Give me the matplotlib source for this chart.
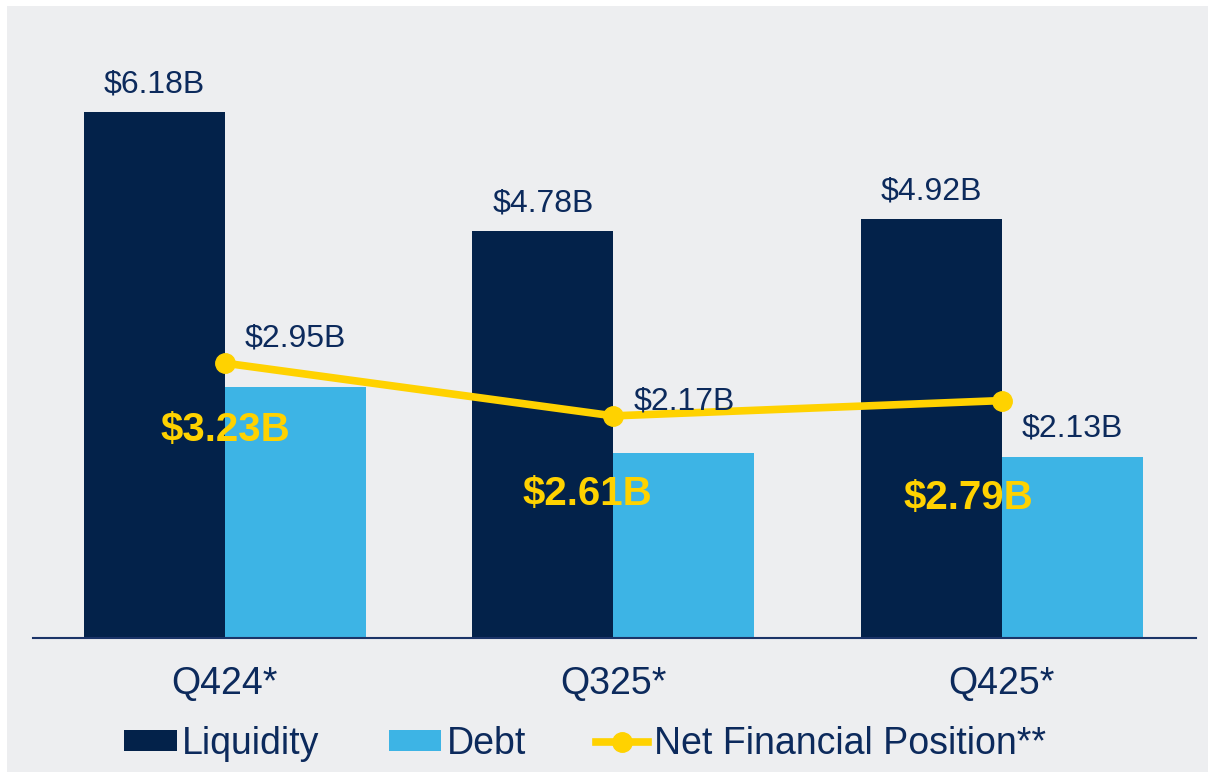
import matplotlib.pyplot as plt
import numpy as np
from matplotlib.patches import Rectangle

quarters = ['Q424*', 'Q325*', 'Q425*']
liquidity = [6.18, 4.78, 4.92]
debt = [2.95, 2.17, 2.13]
net_position = [3.23, 2.61, 2.79]

navy = '#03224A'
sky = '#3DB4E5'
yellow = '#FFD200'
text_col = '#0C2A5C'
bg = '#EDEEF0'

plt.rcParams['font.family'] = ['Liberation Sans', 'DejaVu Sans']

fig = plt.figure(figsize=(12.08, 7.72), dpi=100, facecolor='white')
# grey panel with a thin white margin on top/left
fig.patches.append(Rectangle((7 / 1208, 0), 1, 1 - 6 / 772, transform=fig.transFigure,
                             facecolor=bg, edgecolor='none', zorder=-10))

ax = fig.add_axes([33 / 1208, 1 - 638 / 772, (1196 - 33) / 1208, (638 - 20) / 772])
ax.set_facecolor('none')

x = np.arange(len(quarters))
w = 0.363
b1 = ax.bar(x - w / 2, liquidity, w, color=navy, label='Liquidity', zorder=2)
b2 = ax.bar(x + w / 2, debt, w, color=sky, label='Debt', zorder=2)
ln, = ax.plot(x, net_position, color=yellow, lw=5.5, marker='o', ms=14,
              label='Net Financial Position**', zorder=3)

# value labels
for xi, v in zip(x, liquidity):
    ax.annotate(f'${v:.2f}B', (xi - w / 2, v), xytext=(0, 20), textcoords='offset points',
                ha='center', va='center', fontsize=23, color=text_col)
debt_off = [35, 37, 20]
for xi, v, off in zip(x, debt, debt_off):
    ax.annotate(f'${v:.2f}B', (xi + w / 2, v), xytext=(0, off), textcoords='offset points',
                ha='center', va='center', fontsize=23, color=text_col)
net_off = [(0, -48), (-19, -56), (-24, -70)]
for xi, v, off in zip(x, net_position, net_off):
    ax.annotate(f'${v:.2f}B', (xi, v), xytext=off, textcoords='offset points',
                ha='center', va='center', fontsize=29, fontweight='bold', color=yellow, zorder=4)

ax.set_xlim(-0.494, 2.5)
ax.set_ylim(0, (638 - 20) / 85.1)
ax.set_xticks(x)
ax.set_xticklabels(quarters, fontsize=27, color=text_col)
ax.tick_params(axis='x', length=0, pad=20)
ax.set_yticks([])
for s in ['top', 'left', 'right']:
    ax.spines[s].set_visible(False)
ax.spines['bottom'].set_color('#1B3468')
ax.spines['bottom'].set_linewidth(1.5)

fig.legend([b1, b2, ln], ['Liquidity', 'Debt', 'Net Financial Position**'],
           loc='center', bbox_to_anchor=(585 / 1208, 1 - 744 / 772), ncol=3, frameon=False,
           fontsize=27, labelcolor=text_col, handlelength=1.4, handleheight=0.5,
           handletextpad=0.15, columnspacing=1.85)

fig.savefig('out.png', dpi=100, facecolor='white')
